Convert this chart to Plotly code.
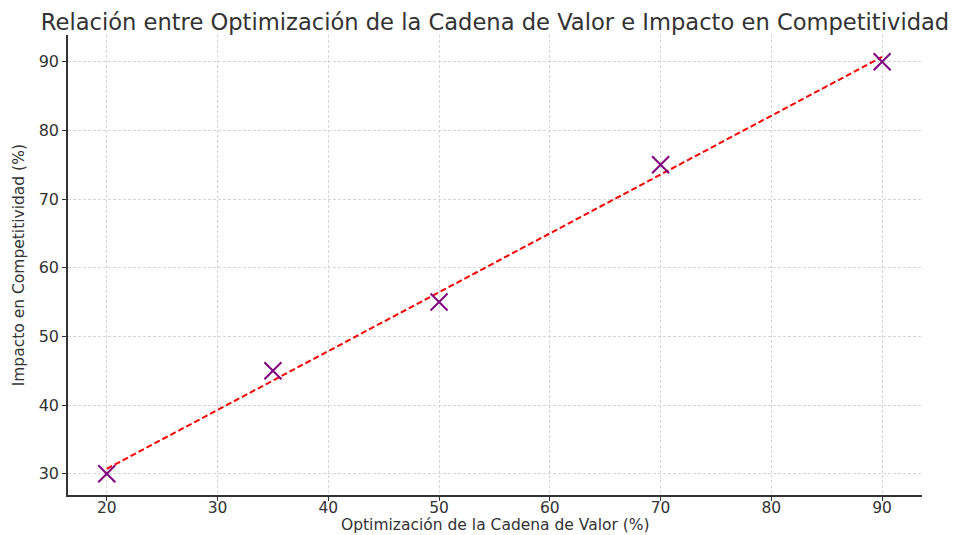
import numpy as np
import plotly.graph_objects as go

optimizacion = [20, 35, 50, 70, 90]
impacto = [30, 45, 55, 75, 90]

# linear trend line (least squares) through the points
slope, intercept = np.polyfit(optimizacion, impacto, 1)
trend_x = [min(optimizacion), max(optimizacion)]
trend_y = [slope * x + intercept for x in trend_x]

fig = go.Figure()

fig.add_trace(go.Scatter(x=trend_x, y=trend_y, mode='lines', name='Tendencia',
                         line=dict(color='red', dash='6px,3px', width=2)))

fig.add_trace(go.Scatter(x=optimizacion, y=impacto, mode='markers', name='Datos',
                         marker=dict(symbol='x-thin', size=17, color='purple',
                                     line=dict(color='purple', width=2))))

axis_style = dict(
    showline=True, linecolor='#333333', linewidth=1.5,
    ticks='outside', ticklen=4, tickcolor='#333333',
    showgrid=True, gridcolor='#d6d6d6', griddash='3px,2px', gridwidth=1,
    zeroline=False, automargin=False,
)

fig.update_layout(
    width=958, height=535,
    paper_bgcolor='white', plot_bgcolor='white',
    font=dict(family='DejaVu Sans', color='#333333'),
    title=dict(text='Relación entre Optimización de la Cadena de Valor e Impacto en Competitividad',
               x=0.5, xref='paper', xanchor='center', y=0.958, yanchor='middle',
               font=dict(size=22.6, color='#333333'), automargin=False),
    margin=dict(l=68, r=36, t=35, b=40),
    showlegend=False,
)

fig.update_xaxes(range=[16.5, 93.6], tickvals=[20, 30, 40, 50, 60, 70, 80, 90],
                 ticklabelstandoff=-6, tickfont=dict(size=15.5, color='#333333'),
                 **axis_style)
fig.update_yaxes(range=[26.9, 93.9], tickvals=[30, 40, 50, 60, 70, 80, 90],
                 tickfont=dict(size=16, color='#333333'), **axis_style)

# axis titles placed as annotations so they sit where the reference has them
fig.add_annotation(text='Optimización de la Cadena de Valor (%)', xref='paper', yref='paper',
                   x=0.5, y=-0.066, xanchor='center', yanchor='middle', showarrow=False,
                   font=dict(size=15.5, color='#333333'))
fig.add_annotation(text='Impacto en Competitividad (%)', xref='paper', yref='paper',
                   x=-0.057, y=0.5, xanchor='center', yanchor='middle', textangle=-90,
                   showarrow=False, font=dict(size=15.5, color='#333333'))

fig.write_html("out.html", config={'displayModeBar': False},
               post_script="document.body.style.margin='0';")
